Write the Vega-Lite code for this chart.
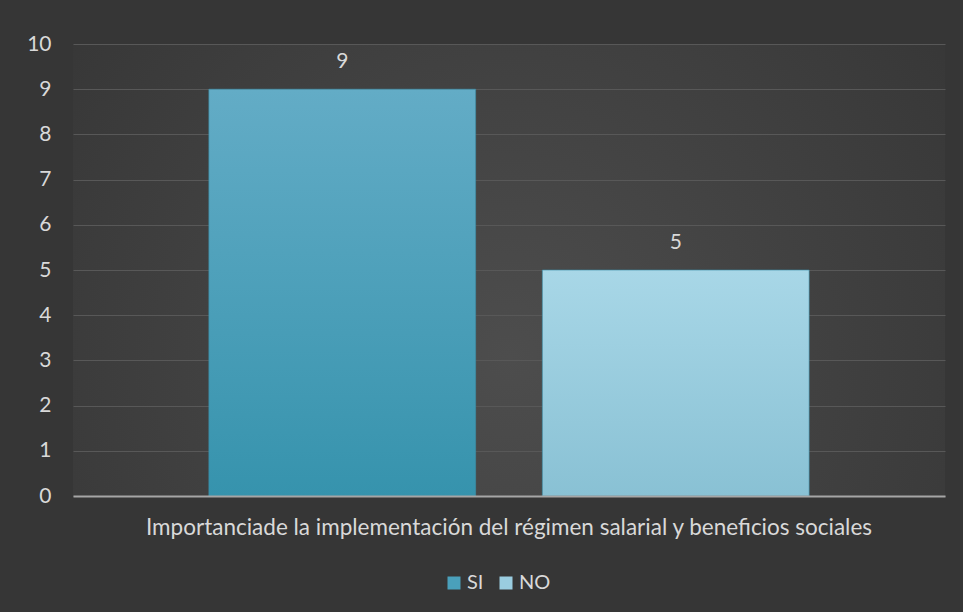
{
  "$schema": "https://vega.github.io/schema/vega-lite/v6.json",
  "width": 872,
  "height": 452,
  "autosize": {"type": "none"},
  "padding": {"left": 73, "top": 44, "right": 18, "bottom": 116},
  "background": "#363636",
  "config": {
    "font": "Lato",
    "view": {
      "stroke": null,
      "fill": {
        "gradient": "radial",
        "x1": 0.5, "y1": 0.6, "r1": 0,
        "x2": 0.5, "y2": 0.6, "r2": 0.75,
        "stops": [
          {"offset": 0, "color": "#4d4d4d"},
          {"offset": 1, "color": "#333333"}
        ]
      }
    }
  },
  "data": {
    "values": [
      {"categoria": "Importanciade la implementación del régimen salarial y beneficios sociales", "serie": "SI", "valor": 9},
      {"categoria": "Importanciade la implementación del régimen salarial y beneficios sociales", "serie": "NO", "valor": 5}
    ]
  },
  "encoding": {
    "x": {
      "field": "categoria",
      "type": "nominal",
      "scale": {"paddingInner": 0, "paddingOuter": 0.1537},
      "axis": {
        "title": null,
        "labelAngle": 0,
        "labelFontSize": 22.5,
        "labelColor": "#d9d9d9",
        "labelPadding": 20,
        "labelLimit": 0,
        "ticks": false,
        "domainColor": "#a6a6a6",
        "domainWidth": 2,
        "zindex": 1
      }
    },
    "xOffset": {
      "field": "serie",
      "type": "nominal",
      "sort": ["SI", "NO"],
      "scale": {"paddingInner": 0.2, "paddingOuter": 0.1}
    },
    "y": {
      "field": "valor",
      "type": "quantitative",
      "scale": {"domain": [0, 10]},
      "axis": {
        "title": null,
        "values": [0, 1, 2, 3, 4, 5, 6, 7, 8, 9, 10],
        "grid": true,
        "gridColor": "#585858",
        "gridWidth": 1,
        "domain": false,
        "ticks": false,
        "labelFontSize": 21,
        "labelColor": "#d9d9d9",
        "labelPadding": 22
      }
    }
  },
  "layer": [
    {
      "mark": {"type": "bar", "stroke": "#3a8ea8", "strokeWidth": 1, "strokeOpacity": 0.6},
      "encoding": {
        "color": {
          "field": "serie",
          "type": "nominal",
          "sort": ["SI", "NO"],
          "scale": {"domain": ["SI", "NO"], "range": ["#4aa0bb", "#9acde0"]},
          "legend": {
            "title": null,
            "orient": "none",
            "legendX": 371,
            "legendY": 529,
            "direction": "horizontal",
            "symbolType": "square",
            "symbolSize": 169,
            "symbolStrokeWidth": 0,
            "labelFontSize": 20,
            "labelColor": "#d9d9d9",
            "columnPadding": 12,
            "labelOffset": 3
          },
          "condition": [
            {
              "test": "datum.serie === 'SI'",
              "value": {
                "gradient": "linear", "x1": 0, "y1": 0, "x2": 0, "y2": 1,
                "stops": [
                  {"offset": 0, "color": "#63acc6"},
                  {"offset": 1, "color": "#3693ad"}
                ]
              }
            },
            {
              "test": "datum.serie === 'NO'",
              "value": {
                "gradient": "linear", "x1": 0, "y1": 0, "x2": 0, "y2": 1,
                "stops": [
                  {"offset": 0, "color": "#a8d7e7"},
                  {"offset": 1, "color": "#89c1d4"}
                ]
              }
            }
          ]
        }
      }
    },
    {
      "mark": {"type": "text", "dy": -27, "fontSize": 21, "color": "#d9d9d9"},
      "encoding": {"text": {"field": "valor", "type": "quantitative"}}
    }
  ]
}
